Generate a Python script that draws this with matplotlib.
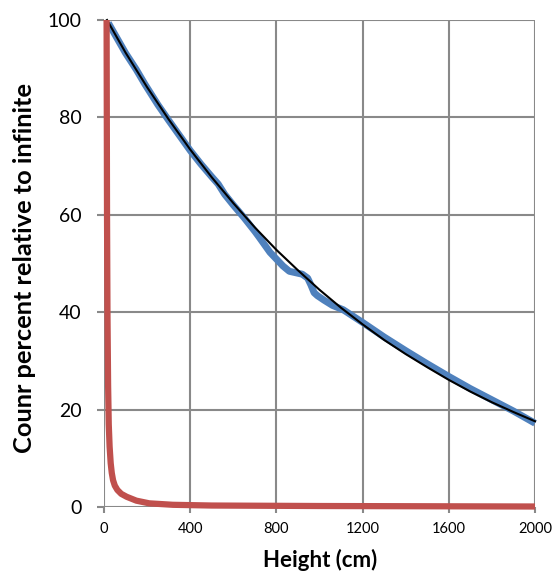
import matplotlib.pyplot as plt

# black fitted curve
fit_x = [14, 100, 200, 300, 400, 500, 600, 700, 800, 900, 1000,
         1100, 1200, 1300, 1400, 1500, 1600, 1700, 1800, 1900, 2000]
fit_y = [100.0, 93.3, 86.2, 79.6, 73.4, 67.7, 62.4, 57.4, 52.8, 48.6, 44.6,
         40.9, 37.5, 34.3, 31.4, 28.7, 26.1, 23.7, 21.5, 19.5, 17.6]

# blue measured curve
meas_x = [20, 100, 150, 190, 250, 300, 350, 400, 450, 500, 530, 560, 600,
          650, 700, 720, 770, 830, 860, 890, 920, 945, 960, 975, 990, 1020,
          1060, 1110, 1200, 1300, 1400, 1500, 1600, 1700, 1800, 1900, 2000]
meas_y = [99.4, 93.2, 89.8, 86.8, 82.6, 79.4, 76.3, 73.2, 70.4, 67.8, 66.3,
          64.2, 62.0, 59.4, 56.6, 55.4, 52.3, 49.5, 48.4, 48.1, 47.8, 47.0,
          45.6, 44.0, 43.4, 42.5, 41.4, 40.5, 37.9, 34.9, 32.1, 29.4, 26.8,
          24.3, 22.0, 19.7, 17.2]

# red curve
red_x = [12, 13, 14, 16, 19, 22, 26, 31, 36, 42, 50, 62, 80, 105, 150, 210,
         320, 500, 1000, 2000]
red_y = [100, 80, 60, 40, 25, 17, 12.4, 9.0, 7.0, 5.5, 4.4, 3.5, 2.7, 2.1,
         1.3, 0.75, 0.45, 0.3, 0.2, 0.1]

plt.rcParams['font.family'] = ['Lato', 'DejaVu Sans']

fig = plt.figure(figsize=(5.55, 5.73), dpi=100)
ax = fig.add_axes([0.1874, 0.1152, 0.7766, 0.8499])

grey = '#898989'
ax.plot(meas_x, meas_y, color='#4F81BD', lw=5, solid_capstyle='butt',
        clip_on=False, zorder=3)
ax.plot(fit_x, fit_y, color='black', lw=1.5, clip_on=False, zorder=4)
ax.plot(red_x, red_y, color='#C0504D', lw=4.5, solid_capstyle='butt',
        clip_on=False, zorder=5)

ax.set_xlim(0, 2000)
ax.set_ylim(0, 100)
ax.set_xticks([0, 400, 800, 1200, 1600, 2000])
ax.set_yticks([0, 20, 40, 60, 80, 100])
ax.grid(True, color=grey, lw=1.5)
ax.set_axisbelow(True)
for s in ax.spines.values():
    s.set_visible(False)

ax.tick_params(axis='y', length=5, width=1.5, color=grey, pad=11, labelsize=14)
ax.tick_params(axis='x', length=4, width=1.5, color=grey, pad=7, labelsize=10.5)

ax.set_xlabel('Height (cm)', fontsize=16, fontweight='bold')
ax.set_ylabel('Counr percent relative to infinite', fontsize=18.3, fontweight='bold')
ax.xaxis.set_label_coords(0.501, -0.087)
ax.yaxis.set_label_coords(-0.158, 0.49)

fig.savefig('out.png', dpi=100)
